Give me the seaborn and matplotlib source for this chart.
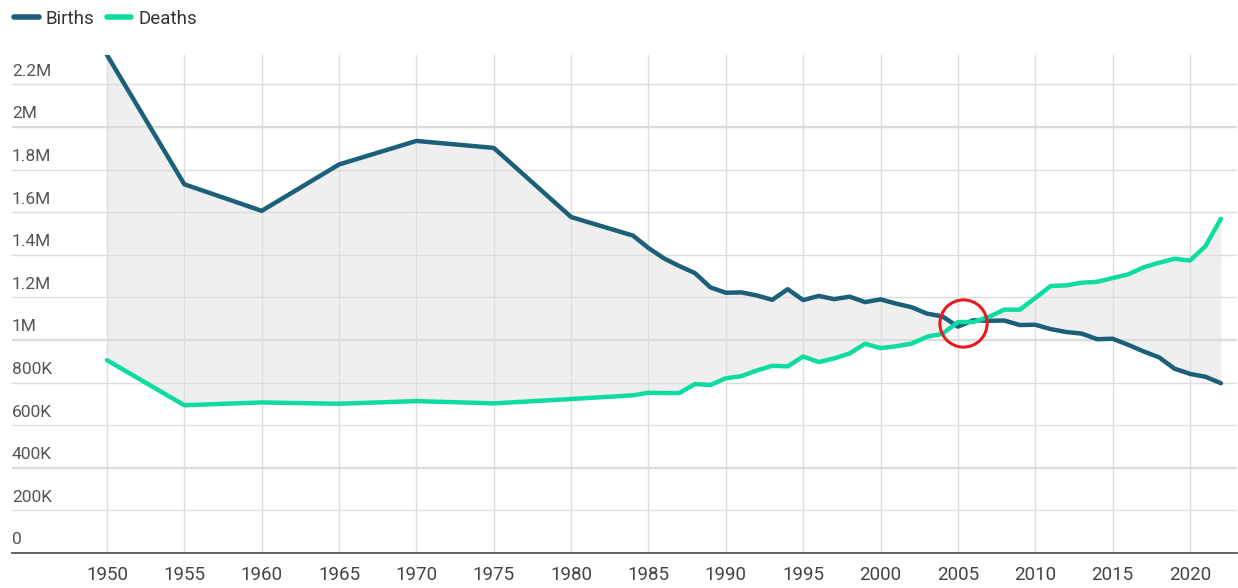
import pandas as pd
import matplotlib.pyplot as plt
import seaborn as sns

years = [1950, 1955, 1960, 1965, 1970, 1975, 1980, 1984, 1985, 1986, 1987, 1988, 1989,
         1990, 1991, 1992, 1993, 1994, 1995, 1996, 1997, 1998, 1999, 2000, 2001, 2002,
         2003, 2004, 2005, 2006, 2007, 2008, 2009, 2010, 2011, 2012, 2013, 2014, 2015,
         2016, 2017, 2018, 2019, 2020, 2021, 2022]
births = [2337507, 1730692, 1606041, 1823697, 1934239, 1901440, 1576889, 1489780, 1431577,
          1382946, 1346658, 1314006, 1246802, 1221585, 1223245, 1208989, 1188282, 1238328,
          1187064, 1206555, 1191665, 1203147, 1177669, 1190547, 1170662, 1153855, 1123610,
          1110721, 1062530, 1092674, 1089818, 1091156, 1070036, 1071304, 1050806, 1037231,
          1029816, 1003539, 1005677, 977242, 946146, 918400, 865239, 840835, 827000, 797000]
deaths = [904876, 693523, 706599, 700438, 712962, 702275, 722801, 740247, 752283, 750620,
          751172, 793014, 788594, 820305, 829797, 856643, 878532, 875933, 922139, 896211,
          913402, 936484, 982031, 961653, 970331, 982379, 1014951, 1028602, 1083796, 1084451,
          1108334, 1142407, 1141865, 1197014, 1253066, 1256359, 1268436, 1273004, 1290444,
          1307748, 1340567, 1362470, 1381093, 1372755, 1439856, 1569050]
year_ticks = list(range(1950, 2021, 5))
y_ticks = [0, 200000, 400000, 600000, 800000, 1000000, 1200000, 1400000, 1600000,
           1800000, 2000000, 2200000]
y_labels = ["0", "200K", "400K", "600K", "800K", "1M", "1.2M", "1.4M", "1.6M",
            "1.8M", "2M", "2.2M"]
strong_lines = [400000, 1000000, 2000000]
highlight = (2005.3, 1079000)

colors = {"Births": "#1b5f79", "Deaths": "#0cdca0"}

df = pd.DataFrame({"Year": years, "Births": births, "Deaths": deaths})
long_df = df.melt(id_vars="Year", var_name="Series", value_name="Count")

sns.set_style("white")
plt.rcParams['font.family'] = ['Roboto', 'DejaVu Sans']

fig = plt.figure(figsize=(12.38, 5.88), dpi=100)
ax = fig.add_axes([12 / 1238, 1 - 553 / 588, 1225 / 1238, 498 / 588])

ax.fill_between(df["Year"], df["Births"], df["Deaths"], color="#efefef", lw=0, zorder=0.3)
sns.lineplot(data=long_df, x="Year", y="Count", hue="Series", palette=colors,
             linewidth=3.2, ax=ax, legend=False, zorder=3)
for l in ax.lines:
    l.set_solid_capstyle("round")
    l.set_solid_joinstyle("round")

ax.plot([highlight[0]], [highlight[1]], marker="o", markersize=34, markerfacecolor="none",
        markeredgecolor="#e8191f", markeredgewidth=2.2, zorder=4)

ax.set_xlim(1943.86, 2023.04)
ax.set_ylim(0, 2337507)
ax.set_xticks(year_ticks)
ax.set_xticklabels([str(y) for y in year_ticks], fontsize=13.5, color="#444444")
ax.set_yticks(y_ticks)
ax.set_yticklabels([])
ax.tick_params(axis="both", length=0)
ax.tick_params(axis="x", pad=9)
ax.set_axisbelow(True)
ax.grid(True, color="#dddddd", linewidth=1)
for v in strong_lines:
    ax.axhline(v, color="#d8d8d8", linewidth=1.5, zorder=0.5)
ax.set_xlabel("")
ax.set_ylabel("")

for v, lab in zip(y_ticks, y_labels):
    ax.annotate(lab, xy=(0, v), xycoords=("axes fraction", "data"), xytext=(0, 4),
                textcoords="offset points", ha="left", va="bottom", fontsize=12.5,
                color="#555555")

for s in ["top", "right", "left"]:
    ax.spines[s].set_visible(False)
ax.spines["bottom"].set_color("#555555")
ax.spines["bottom"].set_linewidth(1.3)

handles = [plt.Line2D([], [], color=colors[k], lw=4, solid_capstyle="round") for k in colors]
fig.legend(handles, list(colors), loc="upper left", bbox_to_anchor=(-0.002, 1.012), ncol=2,
           frameon=False, fontsize=13.5, handlelength=1.3, handletextpad=0.35,
           columnspacing=0.7, labelcolor="#333333")

plt.savefig("out.png", dpi=100)
